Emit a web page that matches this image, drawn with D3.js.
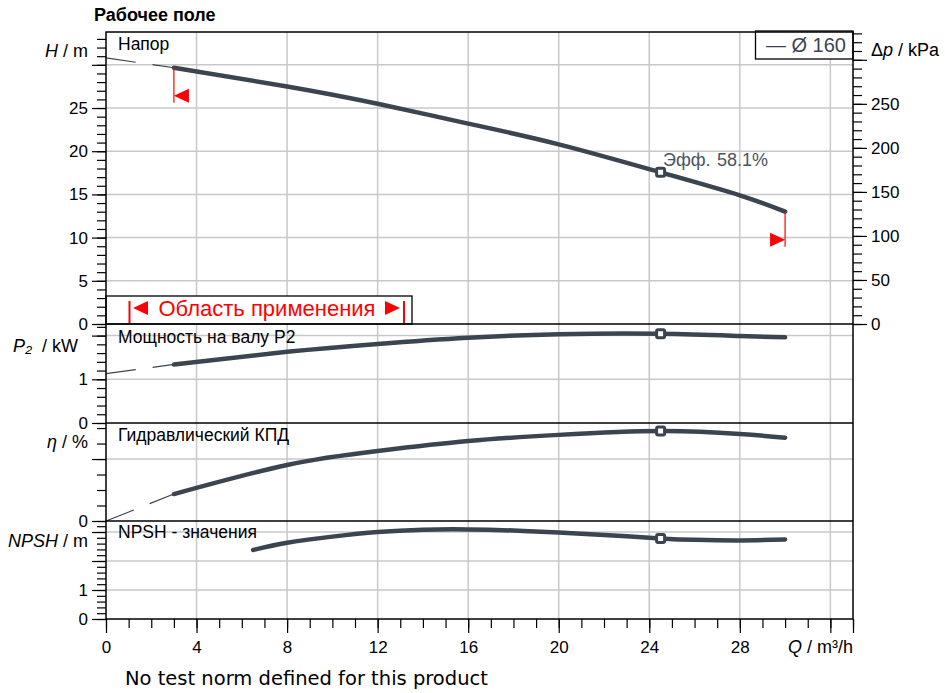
<!DOCTYPE html>
<html>
<head>
<meta charset="utf-8">
<title>Рабочее поле</title>
<script src="https://d3js.org/d3.v7.min.js"></script>
<style>
  body { margin: 0; background: #fff; }
  svg text { font-family: "Liberation Sans", Arial, sans-serif; }
</style>
</head>
<body>
<svg id="canvas" width="945" height="693"></svg>
<script>
// ---- data ----
var flowQ   = [3, 8, 12, 16, 20, 24.5, 28, 30];
var headH   = [29.66, 27.5, 25.5, 23.2, 20.8, 17.56, 14.9, 13.0];
var powerP  = [1.34, 1.63, 1.81, 1.95, 2.03, 2.04, 1.99, 1.96];
var effE    = [17.4, 36.2, 45.2, 51.6, 55.6, 58.1, 56.2, 53.8];

// thin dashed part left of the range
var startQ     = [0, 3];
var headStart  = [30.8, 29.66];
var powerStart = [1.13, 1.34];
var effStart   = [0, 17.4];

var npshQ = [6.5, 8, 10, 12, 14, 16, 18, 20, 22, 24.5, 26, 28, 30];
var npshV = [2.38, 2.63, 2.84, 3.0, 3.08, 3.09, 3.05, 2.98, 2.9, 2.78, 2.73, 2.71, 2.74];

var dutyQ = 24.5;
var dutyText = ["Эфф.", "58.1%"];
var rangeQ = [3, 30];

var qLabels  = [0, 4, 8, 12, 16, 20, 24, 28];
var hLabels  = [0, 5, 10, 15, 20, 25];
var dpLabels = [0, 50, 100, 150, 200, 250];
var pLabels  = [0, 1];
var eLabels  = [0];
var nLabels  = [0, 1];

// ---- layout ----
var L = 106, R = 853, T = 32;
var B1 = 324, B2 = 423, B3 = 521, B4 = 619;
var curveCol = "#3b4550", gridCol = "#c8c8c8";

var x   = d3.scaleLinear([0, 33], [L, R]);
var yH  = d3.scaleLinear([0, 33.8], [B1, T]);
var yDp = d3.scaleLinear([0, 33.8 * 9.81], [B1, T]);
var yP  = d3.scaleLinear([0, 99 / 43.7], [B2, B1]);
var yE  = d3.scaleLinear([0, 98 / 1.549], [B3, B2]);
var yN  = d3.scaleLinear([0, 98 / 29], [B4, B3]);

var svg = d3.select("#canvas");

// title
svg.append("text").attr("x", 94).attr("y", 21)
  .attr("font-size", 18).attr("font-weight", "bold").text("Рабочее поле");

// grid
var grid = svg.append("g").attr("stroke", gridCol).attr("stroke-width", 1.5);
d3.range(4, 33, 4).forEach(function(q){
  grid.append("line").attr("x1", x(q)).attr("x2", x(q)).attr("y1", T).attr("y2", B4);
});
function hgrid(scale, vals){
  vals.forEach(function(v){
    grid.append("line").attr("x1", L).attr("x2", R).attr("y1", scale(v)).attr("y2", scale(v));
  });
}
hgrid(yH, [5, 10, 15, 20, 25, 30]);
hgrid(yP, [1, 2]);
hgrid(yE, [40]);
hgrid(yN, [1, 2, 3]);

// axes
function styleAxis(g){
  g.select(".domain").remove();
  g.selectAll("line").attr("stroke", "#000").attr("stroke-width", 1.2);
  g.attr("font-size", 17).attr("font-family", "Liberation Sans, Arial, sans-serif");
  g.selectAll("text").attr("fill", "#000");
}
function leftAxis(scale, step, max, major, labels){
  svg.append("g").attr("transform", "translate(" + L + ",0)")
    .call(d3.axisLeft(scale).tickValues(d3.range(0, max + 1e-6, step)).tickSize(9).tickFormat(""))
    .call(styleAxis);
  svg.append("g").attr("transform", "translate(" + L + ",0)")
    .call(d3.axisLeft(scale).tickValues(major).tickSize(14).tickPadding(4)
      .tickFormat(function(d){ return labels.indexOf(d) >= 0 ? d : ""; }))
    .call(styleAxis);
}
leftAxis(yH, 1, 33, [0, 5, 10, 15, 20, 25, 30], hLabels);
leftAxis(yP, 0.2, 2.2, [0, 1, 2], pLabels);
leftAxis(yE, 10, 60, [0, 40], eLabels);
leftAxis(yN, 0.2, 3.2, [0, 1, 2, 3], nLabels);

svg.append("g").attr("transform", "translate(" + R + ",0)")
  .call(d3.axisRight(yDp).tickValues(d3.range(0, 331, 10)).tickSize(9).tickFormat(""))
  .call(styleAxis);
svg.append("g").attr("transform", "translate(" + R + ",0)")
  .call(d3.axisRight(yDp).tickValues(d3.range(0, 301, 50)).tickSize(14).tickPadding(4)
    .tickFormat(function(d){ return dpLabels.indexOf(d) >= 0 ? d : ""; }))
  .call(styleAxis);

svg.append("g").attr("transform", "translate(0," + B4 + ")")
  .call(d3.axisBottom(x).tickValues(d3.range(0, 33.5, 1)).tickSize(9).tickFormat(""))
  .call(styleAxis);
svg.append("g").attr("transform", "translate(0," + B4 + ")")
  .call(d3.axisBottom(x).tickValues(d3.range(0, 33, 4).concat([33])).tickSize(14).tickPadding(8)
    .tickFormat(function(d){ return qLabels.indexOf(d) >= 0 ? d : ""; }))
  .call(styleAxis);

// axis titles
function axisTitle(xp, yp, anchor, parts){
  var t = svg.append("text").attr("x", xp).attr("y", yp).attr("text-anchor", anchor)
    .attr("font-size", 18).attr("xml:space", "preserve");
  parts.forEach(function(p){
    var s = t.append("tspan").text(p[0]);
    if (p[1]) s.attr("font-style", "italic");
    if (p[2]) s.attr("font-size", 10).attr("dy", 3);
    if (p[3]) s.attr("dy", -3);
  });
}
axisTitle(88, 57, "end", [["H", 1], [" / m"]]);
axisTitle(78, 352, "end", [["P", 1], ["₂", 1], ["  / kW"]]);
axisTitle(88, 448, "end", [["η", 1], [" / %"]]);
axisTitle(88, 547, "end", [["NPSH", 1], [" / m"]]);
axisTitle(871, 56, "start", [["Δ"], ["p", 1], [" / kPa"]]);
axisTitle(R, 653, "end", [["Q", 1], [" / m³/h"]]);

// panel labels
[["Напор", 50], ["Мощность на валу P2", 343], ["Гидравлический КПД", 441], ["NPSH - значения", 538]]
  .forEach(function(d){
    svg.append("text").attr("x", 118).attr("y", d[1]).attr("font-size", 17.5).text(d[0]);
  });

// application range box
var box = svg.append("g");
box.append("rect").attr("x", L).attr("y", 296).attr("width", 412 - L).attr("height", B1 - 296)
  .attr("fill", "#fff").attr("stroke", "#000").attr("stroke-width", 1.3);
box.append("line").attr("x1", 129.5).attr("x2", 129.5).attr("y1", 301).attr("y2", 323)
  .attr("stroke", "red").attr("stroke-width", 2);
box.append("line").attr("x1", 404).attr("x2", 404).attr("y1", 301).attr("y2", 323)
  .attr("stroke", "red").attr("stroke-width", 2);
box.append("path").attr("d", "M133,308L148,301L148,315Z").attr("fill", "red");
box.append("path").attr("d", "M400,308L385,301L385,315Z").attr("fill", "red");
box.append("text").attr("x", 267).attr("y", 316).attr("text-anchor", "middle")
  .attr("font-size", 22).attr("fill", "red").text("Область применения");

// curves
var panels = [
  { y: yH, start: headStart, vals: headH },
  { y: yP, start: powerStart, vals: powerP },
  { y: yE, start: effStart, vals: effE }
];
panels.forEach(function(p){
  var line = d3.line().x(function(d){ return x(d[0]); }).y(function(d){ return p.y(d[1]); });
  svg.append("path").attr("d", line(d3.zip(startQ, p.start)))
    .attr("fill", "none").attr("stroke", curveCol).attr("stroke-width", 1.2)
    .attr("stroke-dasharray", "30,17");
  svg.append("path").attr("d", line.curve(d3.curveNatural)(d3.zip(flowQ, p.vals)))
    .attr("fill", "none").attr("stroke", curveCol).attr("stroke-width", 4.5)
    .attr("stroke-linecap", "round");
  var i = flowQ.indexOf(dutyQ);
  p.duty = [x(dutyQ), p.y(p.vals[i])];
});
var npshLine = d3.line().curve(d3.curveNatural)
  .x(function(d){ return x(d[0]); }).y(function(d){ return yN(d[1]); });
svg.append("path").attr("d", npshLine(d3.zip(npshQ, npshV)))
  .attr("fill", "none").attr("stroke", curveCol).attr("stroke-width", 4.5)
  .attr("stroke-linecap", "round");
panels.push({ duty: [x(dutyQ), yN(npshV[npshQ.indexOf(dutyQ)])] });

// duty point markers
panels.forEach(function(p){
  svg.append("rect").attr("x", p.duty[0] - 4).attr("y", p.duty[1] - 4)
    .attr("width", 8).attr("height", 8).attr("rx", 1.5)
    .attr("fill", "#fff").attr("stroke", curveCol).attr("stroke-width", 3);
});
svg.append("text").attr("x", 663).attr("y", 166).attr("font-size", 18).attr("fill", "#4a545e").text(dutyText[0]);
svg.append("text").attr("x", 717).attr("y", 166).attr("font-size", 18).attr("fill", "#4a545e").text(dutyText[1]);

// range limit markers on head curve
rangeQ.forEach(function(q, k){
  var xq = x(q), yq = yH(headH[flowQ.indexOf(q)]);
  svg.append("line").attr("x1", xq).attr("x2", xq).attr("y1", yq).attr("y2", yq + 35)
    .attr("stroke", "red").attr("stroke-width", 1.2);
  var yc = yq + 28;
  var d = k === 0
    ? "M" + xq + "," + yc + "L" + (xq + 15) + "," + (yc - 7) + "L" + (xq + 15) + "," + (yc + 7) + "Z"
    : "M" + xq + "," + yc + "L" + (xq - 15) + "," + (yc - 7) + "L" + (xq - 15) + "," + (yc + 7) + "Z";
  svg.append("path").attr("d", d).attr("fill", "red");
});

// legend
svg.append("rect").attr("x", 755.5).attr("y", 31).attr("width", R - 755.5).attr("height", 28)
  .attr("fill", "#fff").attr("stroke", "#000").attr("stroke-width", 1.3);
svg.append("text").attr("x", 846).attr("y", 52).attr("text-anchor", "end")
  .attr("font-size", 20).attr("fill", curveCol).text("— Ø 160");

// frame and panel separators
var frame = svg.append("g").attr("stroke", "#000").attr("stroke-width", 1.5).attr("fill", "none");
frame.append("rect").attr("x", L).attr("y", T).attr("width", R - L).attr("height", B4 - T);
[B1, B2, B3].forEach(function(b){
  frame.append("line").attr("x1", L).attr("x2", R).attr("y1", b).attr("y2", b);
});

// footer
svg.append("text").attr("x", 125).attr("y", 685).attr("font-size", 19.5)
  .style("font-family", "DejaVu Sans, sans-serif").text("No test norm defined for this product");
</script>
</body>
</html>
